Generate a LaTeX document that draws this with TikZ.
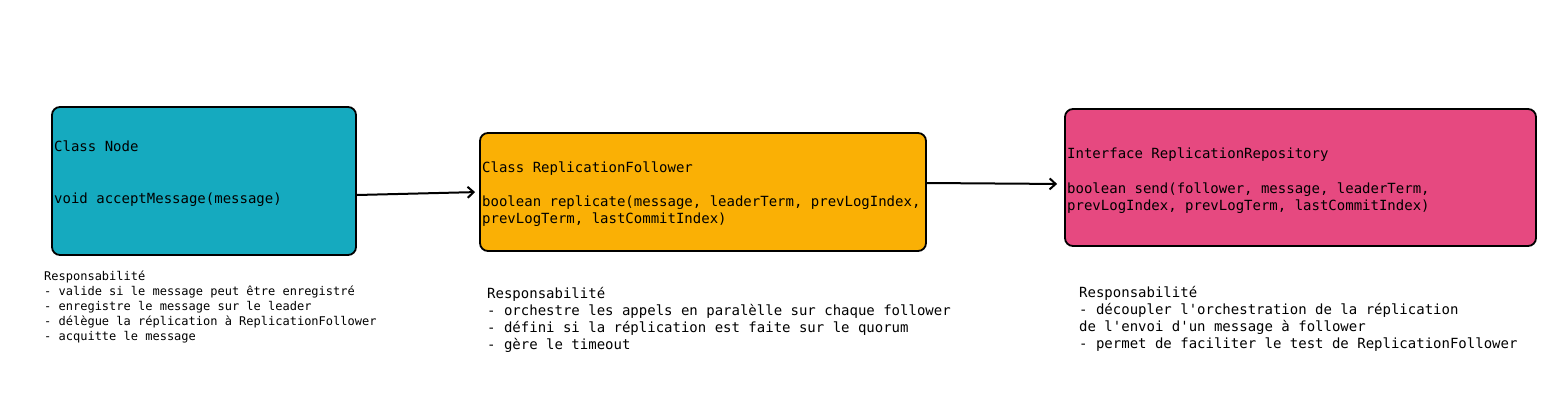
\documentclass[tikz,border=0pt]{standalone}
\usepackage{fontspec}
\setmonofont{DejaVu Sans Mono}
\usetikzlibrary{arrows.meta}
\definecolor{nodecyan}{HTML}{15AABF}
\definecolor{followeryellow}{HTML}{FAB005}
\definecolor{repopink}{HTML}{E64980}

\begin{document}
\begin{tikzpicture}[x=1pt,y=-1pt,
  box/.style={rectangle,draw=black,line width=1.8pt,rounded corners=8pt},
  code/.style={anchor=base west,align=left,inner sep=0pt,font=\ttfamily\fontsize{14}{17}\selectfont},
  resp/.style={anchor=base west,align=left,inner sep=0pt,font=\ttfamily\fontsize{14}{17}\selectfont},
  smallresp/.style={resp,font=\ttfamily\fontsize{12}{15}\selectfont},
  link/.style={-{Straight Barb[length=6pt,width=11pt]},line width=2pt}]

\useasboundingbox (0,0) rectangle (1564,410);

% boxes
\node[box,fill=nodecyan,minimum width=304pt,minimum height=148pt] (node) at (204,181) {};
\node[box,fill=followeryellow,minimum width=446pt,minimum height=118pt] (follower) at (703,192) {};
\node[box,fill=repopink,minimum width=471pt,minimum height=137pt] (repo) at (1300.5,177.5) {};

% code inside the boxes (placed by the baseline of the last line)
\node[code] (nodetxt) at (54,203) {Class Node\\[35pt]void acceptMessage(message)};
\node[code] (followertxt) at (482,223) {Class ReplicationFollower\\[17pt]boolean replicate(message, leaderTerm, prevLogIndex,\\prevLogTerm, lastCommitIndex)};
\node[code] (repotxt) at (1067,210) {Interface ReplicationRepository\\[18pt]boolean send(follower, message, leaderTerm,\\prevLogIndex, prevLogTerm, lastCommitIndex)};

% responsibilities
\node[smallresp] (noderesp) at (44,340) {Responsabilité\\- valide si le message peut être enregistré\\- enregistre le message sur le leader\\- délègue la réplication à ReplicationFollower\\- acquitte le message};
\node[resp] (followerresp) at (487,349) {Responsabilité\\- orchestre les appels en paralèlle sur chaque follower\\- défini si la réplication est faite sur le quorum\\- gère le timeout};
\node[resp] (reporesp) at (1079,348) {Responsabilité\\- découpler l'orchestration de la réplication\\de l'envoi d'un message à follower\\- permet de faciliter le test de ReplicationFollower};

% calls
\draw[link,shorten >=4pt] ([yshift=-14pt]node.east) -- (follower.west);
\draw[link,shorten >=7pt] ([yshift=9pt]follower.east) -- ([yshift=-6.5pt]repo.west);
\end{tikzpicture}
\end{document}
